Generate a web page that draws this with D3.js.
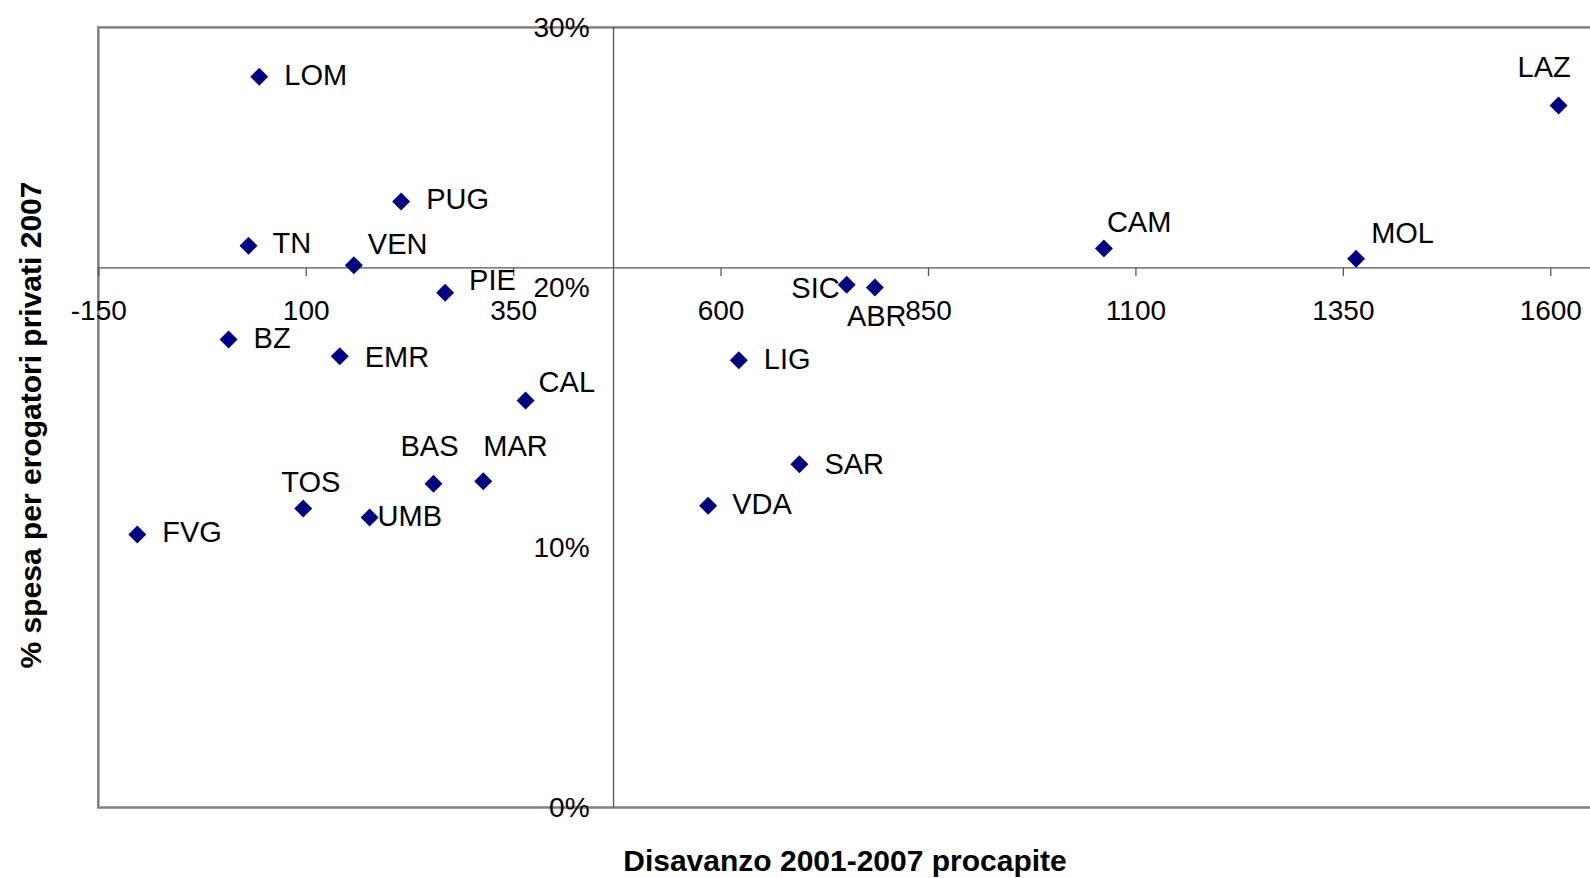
<!DOCTYPE html>
<html>
<head>
<meta charset="utf-8">
<script src="https://cdn.jsdelivr.net/npm/d3@7"></script>
<style>
  body { margin: 0; background: #fff; }
  svg { display: block; font-family: "Liberation Sans", Arial, sans-serif; }
</style>
</head>
<body>
<div id="chart"></div>
<script>
// Regioni: disavanzo 2001-2007 procapite vs % spesa per erogatori privati 2007
var regions = ["LOM", "PUG", "TN", "VEN", "PIE", "BZ", "EMR", "CAL", "LIG", "BAS", "MAR",
               "TOS", "UMB", "FVG", "VDA", "SAR", "SIC", "ABR", "CAM", "MOL", "LAZ"];
var disavanzo = [44, 215, 31, 158, 268, 7, 141, 365, 622, 254, 314,
                 97, 177, -103, 585, 695, 752, 786, 1062, 1366, 1610];
var spesaPrivati = [28.1, 23.3, 21.6, 20.85, 19.8, 18.0, 17.35, 15.65, 17.2, 12.45, 12.55,
                    11.5, 11.15, 10.5, 11.6, 13.2, 20.1, 20.0, 21.5, 21.1, 27.0];
var xTicks = [-150, 100, 350, 600, 850, 1100, 1350, 1600];
var yTicks = [0, 10, 20, 30];
var xCross = 471;    // where the vertical axis crosses
var yCross = 20.75;  // where the horizontal axis crosses

// label placement relative to each marker: [dx, dy, anchor]
var labelPos = {
  LOM: [25, -2, "start"], PUG: [25, -3, "start"], TN: [24, -3, "start"],
  VEN: [14, -22, "start"], PIE: [24, -13, "start"], BZ: [25, -2, "start"],
  EMR: [25, 0, "start"], CAL: [13, -19, "start"], LIG: [25, -2, "start"],
  BAS: [-33, -38, "start"], MAR: [0, -36, "start"], TOS: [-22, -27, "start"],
  UMB: [8, -2, "start"], FVG: [25, -3, "start"], VDA: [24, -2, "start"],
  SAR: [25, -1, "start"], SIC: [-7, 3, "end"], ABR: [-28, 28, "start"],
  CAM: [3, -27, "start"], MOL: [15, -26, "start"], LAZ: [-41, -39, "start"]
};

var width = 1590, height = 878;
var plotLeft = 98.3, plotTop = 27.4, plotBottom = 807.5, plotRight = 1757.7;

var svg = d3.select('#chart').append('svg')
  .attr('width', width)
  .attr('height', height);

var x = d3.scaleLinear().domain([-150, 1850]).range([plotLeft, plotRight]);
var y = d3.scaleLinear().domain([0, 30]).range([plotBottom, plotTop]);

// plot frame
svg.append('rect')
  .attr('x', plotLeft).attr('y', plotTop)
  .attr('width', plotRight - plotLeft).attr('height', plotBottom - plotTop)
  .style('fill', 'none')
  .style('stroke', '#808080')
  .style('stroke-width', 2.5);

// horizontal axis through yCross
var xAxis = svg.append('g')
  .attr('transform', 'translate(0,' + y(yCross) + ')')
  .call(d3.axisBottom(x).tickValues(xTicks).tickSize(8).tickPadding(24)
    .tickFormat(function(d) { return String(d); }));
xAxis.select('.domain').remove();
xAxis.append('line')
  .attr('x1', plotLeft).attr('x2', plotRight)
  .style('stroke', '#555').style('stroke-width', 1.3);
xAxis.selectAll('.tick line').style('stroke', '#555').style('stroke-width', 1.3);
xAxis.selectAll('.tick text')
  .style('font-size', '28px')
  .style('font-family', '"Liberation Sans", Arial, sans-serif')
  .style('fill', '#000');

// vertical axis through xCross
var yAxis = svg.append('g')
  .attr('transform', 'translate(' + x(xCross) + ',0)')
  .call(d3.axisLeft(y).tickValues(yTicks).tickSize(0).tickPadding(24)
    .tickFormat(function(d) { return d + '%'; }));
yAxis.select('.domain').remove();
yAxis.append('line')
  .attr('y1', plotTop).attr('y2', plotBottom)
  .style('stroke', '#555').style('stroke-width', 1.3);
yAxis.selectAll('.tick text')
  .style('font-size', '28px')
  .style('font-family', '"Liberation Sans", Arial, sans-serif')
  .style('fill', '#000');

// markers
var diamond = d3.symbol().type(d3.symbolSquare).size(162);
svg.append('g').selectAll('path')
  .data(regions)
  .join('path')
  .attr('d', diamond)
  .attr('transform', function(d, i) {
    return 'translate(' + x(disavanzo[i]) + ',' + y(spesaPrivati[i]) + ') rotate(45)';
  })
  .style('fill', '#000080');

// point labels
svg.append('g').selectAll('text')
  .data(regions)
  .join('text')
  .attr('x', function(d, i) { return x(disavanzo[i]) + labelPos[d][0]; })
  .attr('y', function(d, i) { return y(spesaPrivati[i]) + labelPos[d][1]; })
  .attr('dy', '0.36em')
  .attr('text-anchor', function(d) { return labelPos[d][2]; })
  .style('font-size', '29px')
  .style('fill', '#000')
  .text(function(d) { return d; });

// axis titles
svg.append('text')
  .attr('x', 845).attr('y', 871)
  .attr('text-anchor', 'middle')
  .style('font-size', '30px')
  .style('font-weight', 'bold')
  .text('Disavanzo 2001-2007 procapite');

svg.append('text')
  .attr('transform', 'translate(41,425) rotate(-90)')
  .attr('text-anchor', 'middle')
  .style('font-size', '30px')
  .style('font-weight', 'bold')
  .text('% spesa per erogatori privati 2007');
</script>
</body>
</html>
